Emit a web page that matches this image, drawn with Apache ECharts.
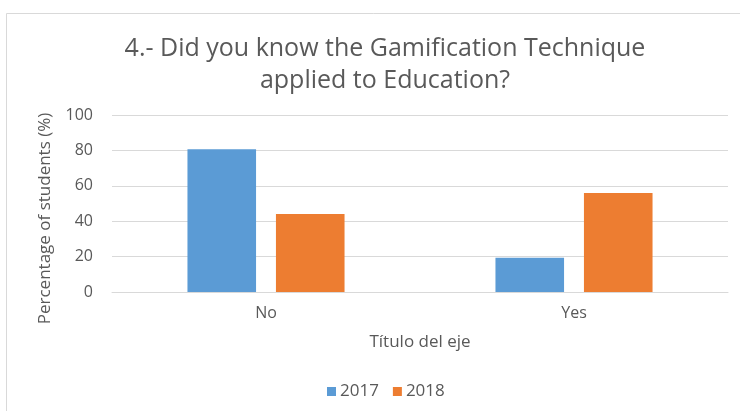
<!DOCTYPE html>
<html>
<head>
<meta charset="utf-8">
<script src="https://cdn.jsdelivr.net/npm/echarts@6/dist/echarts.min.js"></script>
<style>
  html, body { margin: 0; padding: 0; background: #fff; }
  #main { width: 740px; height: 411px; }
</style>
</head>
<body>
<div id="main"></div>
<script>
// categories and values
const categories = ['No', 'Yes'];
const years = ['2017', '2018'];
const values2017 = [80.6, 19.4];
const values2018 = [44, 56];
const yTicks = [0, 20, 40, 60, 80, 100];

const colors = ['#5B9BD5', '#ED7D31'];
const textColor = '#595959';
const font = 'Open Sans';

const chart = echarts.init(document.getElementById('main'));

const option = {
  animation: false,
  backgroundColor: '#fff',
  color: colors,
  graphic: [
    // chart frame (cut by the picture edges)
    {
      type: 'rect',
      shape: { x: 6.5, y: 13.5, width: 800, height: 500 },
      style: { fill: 'none', stroke: '#D9D9D9', lineWidth: 1 },
      silent: true
    }
  ],
  title: {
    text: '4.- Did you know the Gamification Technique\napplied to Education?',
    left: 380,
    top: 28,
    textAlign: 'center',
    textStyle: {
      fontFamily: font,
      fontSize: 25,
      fontWeight: 'normal',
      color: textColor,
      lineHeight: 32
    }
  },
  legend: {
    data: years,
    bottom: 6,
    left: 322,
    itemWidth: 9,
    itemHeight: 9,
    itemGap: 14,
    icon: 'rect',
    textStyle: { fontFamily: font, fontSize: 17, color: textColor, padding: [0, 0, 0, -1] }
  },
  grid: {
    left: 112,
    right: 12,
    top: 115,
    bottom: 119
  },
  xAxis: {
    type: 'category',
    data: categories,
    name: 'Título del eje',
    nameLocation: 'middle',
    nameGap: 42,
    nameTextStyle: { fontFamily: font, fontSize: 17, color: textColor },
    axisLine: { lineStyle: { color: '#D9D9D9' } },
    axisTick: { show: false },
    axisLabel: { fontFamily: font, fontSize: 16, color: textColor, margin: 13 }
  },
  yAxis: {
    type: 'value',
    min: yTicks[0],
    max: yTicks[yTicks.length - 1],
    interval: 20,
    name: 'Percentage of students (%)',
    nameLocation: 'middle',
    nameGap: 58,
    nameTextStyle: { fontFamily: font, fontSize: 17, color: textColor, padding: [0, 30, 0, 0] },
    axisLine: { show: false },
    axisTick: { show: false },
    splitLine: { lineStyle: { color: '#D9D9D9' } },
    axisLabel: { fontFamily: font, fontSize: 16, color: textColor, margin: 19 }
  },
  series: [
    {
      name: years[0],
      type: 'bar',
      data: values2017,
      barGap: '29%',
      barCategoryGap: '49%'
    },
    {
      name: years[1],
      type: 'bar',
      data: values2018
    }
  ]
};

chart.setOption(option);
</script>
</body>
</html>
